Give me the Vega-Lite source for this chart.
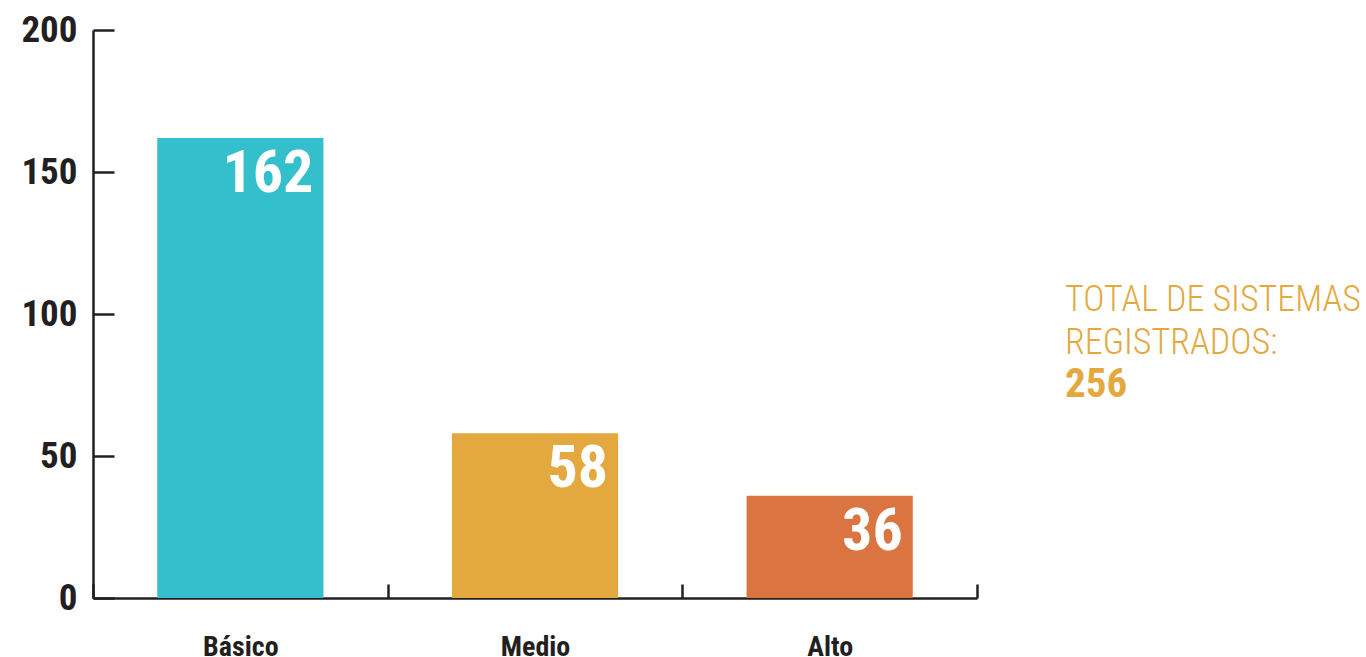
{
  "$schema": "https://vega.github.io/schema/vega-lite/v6.json",
  "padding": {"left": 20, "top": 11, "right": 0, "bottom": 0},
  "background": "white",
  "config": {
    "view": {"stroke": null},
    "font": "Roboto Condensed, DejaVu Sans Condensed, sans-serif"
  },
  "datasets": {
    "bars": [
      {"nivel": "Básico", "total": 162},
      {"nivel": "Medio", "total": 58},
      {"nivel": "Alto", "total": 36}
    ],
    "note": [
      {"orden": 1, "texto": "TOTAL DE SISTEMAS"},
      {"orden": 2, "texto": "REGISTRADOS:"},
      {"orden": 3, "texto": "256"}
    ]
  },
  "spacing": 86,
  "center": true,
  "hconcat": [
    {
      "width": 884,
      "height": 568,
      "data": {"name": "bars"},
      "layer": [
        {
          "mark": {"type": "bar", "width": {"band": 0.564}},
          "encoding": {
            "x": {
              "field": "nivel",
              "type": "nominal",
              "sort": null,
              "scale": {"domain": ["Básico", "Medio", "Alto"], "paddingInner": 0, "paddingOuter": 0},
              "axis": {
                "title": null,
                "labelAngle": 0,
                "tickBand": "extent",
                "tickSize": -14,
                "tickWidth": 2.5,
                "tickColor": "#231f20",
                "domainColor": "#231f20",
                "domainWidth": 2.5,
                "labelPadding": 71,
                "labelBaseline": "alphabetic",
                "labelFontSize": 28,
                "labelFontWeight": "bold",
                "labelColor": "#231f20"
              }
            },
            "y": {
              "field": "total",
              "type": "quantitative",
              "scale": {"domain": [0, 200], "nice": false},
              "axis": {
                "title": null,
                "values": [0, 50, 100, 150, 200],
                "grid": false,
                "tickSize": -21,
                "tickWidth": 2.5,
                "tickColor": "#231f20",
                "domainColor": "#231f20",
                "domainWidth": 2.5,
                "labelPadding": 37,
                "labelFontSize": 37,
                "labelFontWeight": "bold",
                "labelColor": "#231f20"
              }
            },
            "color": {
              "field": "nivel",
              "type": "nominal",
              "scale": {"domain": ["Básico", "Medio", "Alto"], "range": ["#33c0cc", "#e3a93e", "#da7441"]},
              "legend": null
            }
          }
        },
        {
          "mark": {"type": "text", "align": "right", "baseline": "alphabetic", "dx": -10, "dy": 54, "fontSize": 60, "fontWeight": "bold", "color": "white"},
          "encoding": {
            "x": {"field": "nivel", "type": "nominal", "sort": null, "bandPosition": 0.782},
            "y": {"field": "total", "type": "quantitative"},
            "text": {"field": "total", "type": "quantitative"}
          }
        }
      ]
    },
    {
      "width": 300,
      "height": 172,
      "data": {"name": "note"},
      "encoding": {
        "x": {"datum": 0, "type": "quantitative", "scale": {"domain": [0, 1]}, "axis": null},
        "y": {"field": "orden", "type": "ordinal", "scale": {"type": "point", "padding": 1, "align": 0.6}, "axis": null},
        "text": {"field": "texto"}
      },
      "layer": [
        {
          "transform": [{"filter": "datum.orden < 3"}],
          "mark": {"type": "text", "align": "left", "baseline": "alphabetic", "fontSize": 36, "fontWeight": 300, "color": "#e3a93f"}
        },
        {
          "transform": [{"filter": "datum.orden == 3"}],
          "mark": {"type": "text", "align": "left", "baseline": "alphabetic", "fontSize": 41, "fontWeight": "bold", "color": "#e3a93f"}
        }
      ]
    }
  ]
}
